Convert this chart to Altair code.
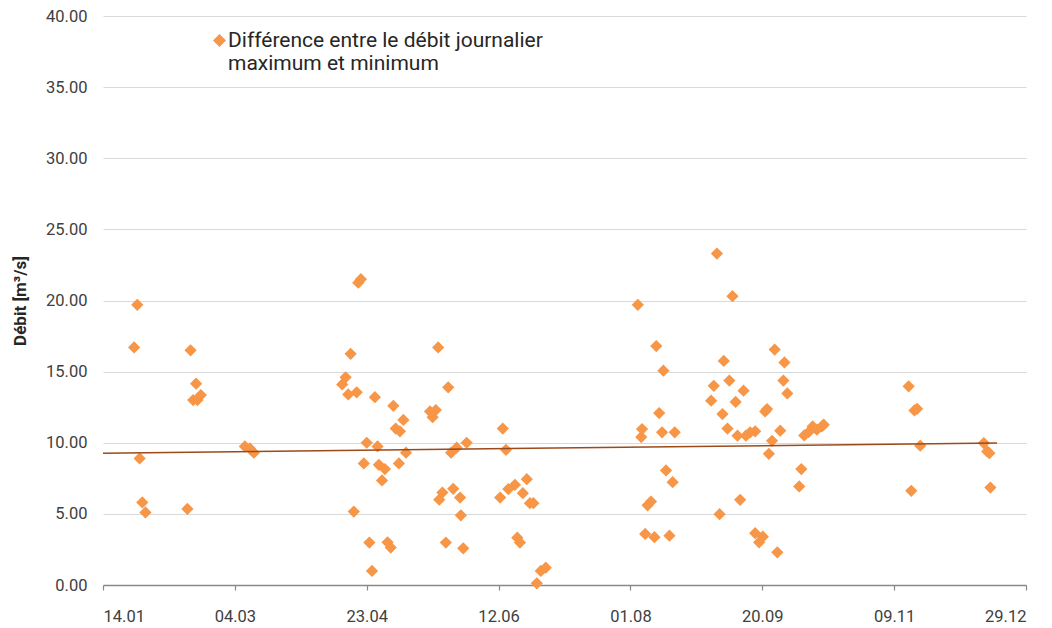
import altair as alt
import pandas as pd

# days since 14.01 (leap year), and daily max-min discharge difference [m3/s]
days = [11.8, 13.0, 13.9, 14.9, 16.1, 32.0, 33.2, 34.2, 35.3, 35.8, 37.1,
        53.8, 55.7, 57.2,
        90.7, 92.0, 93.0, 93.9, 95.1, 96.2, 96.8, 97.8, 98.9, 100.0, 101.0,
        102.0, 103.1, 104.1, 104.6, 105.8, 106.9, 107.9, 109.1, 110.1, 111.0,
        112.2, 112.6, 113.9, 114.9,
        124.0, 125.0, 126.2, 127.1, 127.5, 128.7, 130.0, 130.9, 132.0, 132.8,
        134.1, 135.4, 135.7, 136.6, 137.9,
        150.6, 151.6, 152.8, 153.7, 156.2, 157.1, 158.1, 159.2, 160.7, 161.9,
        163.2, 164.5, 166.0, 167.9,
        202.8, 204.1, 204.4, 205.6, 206.5, 207.8, 209.1, 209.8, 210.9, 212.0,
        212.5, 213.5, 214.8, 216.0, 216.8,
        230.6, 231.6, 232.8, 233.8, 234.9, 235.4, 236.8, 237.5, 238.7, 239.9,
        240.6, 241.6, 242.9, 243.8, 245.4, 247.3, 247.3, 248.8, 250.2, 251.1,
        251.8, 252.5, 253.7, 254.7, 255.7, 256.8, 258.0, 258.4, 259.5,
        264.0, 264.8, 265.9, 267.6, 269.1, 270.7, 272.6, 273.3,
        305.5, 306.5, 307.7, 308.7, 309.9,
        334.0, 335.3, 336.1, 336.5]
values = [16.7, 19.7, 8.9, 5.8, 5.1, 5.35, 16.5, 13.0, 14.15, 13.0, 13.35,
          9.74, 9.6, 9.3,
          14.1, 14.6, 13.4, 16.25, 5.16, 13.55, 21.25, 21.5, 8.55, 10.0, 2.98,
          0.99, 13.2, 9.74, 8.45, 7.35, 8.15, 3.0, 2.63, 12.6, 11.0,
          8.55, 10.8, 11.6, 9.3,
          12.2, 11.8, 12.3, 16.7, 6.0, 6.5, 2.98, 13.9, 9.3, 6.76,
          9.65, 6.15, 4.9, 2.58, 10.0,
          6.15, 11.0, 9.5, 6.74, 7.04, 3.33, 2.98, 6.45, 7.44, 5.75,
          5.75, 0.12, 0.99, 1.22,
          19.7, 10.4, 10.96, 3.59, 5.6, 5.87, 3.36, 16.8, 12.09, 10.73,
          15.07, 8.05, 3.47, 7.23, 10.73,
          12.96, 14.0, 23.3, 4.98, 12.02, 15.75, 11.0, 14.37, 20.3, 12.87,
          10.5, 5.99, 13.66, 10.5, 10.73, 10.8, 3.64, 3.0, 3.4, 12.2,
          12.37, 9.22, 10.14, 16.55, 2.3, 10.85, 14.37, 15.65, 13.47,
          6.93, 8.15, 10.51, 10.75, 11.15, 10.92, 11.15, 11.27,
          13.97, 6.62, 12.27, 12.39, 9.79,
          9.98, 9.39, 9.27, 6.85]

# linear trend line (start / end)
trend_days = [0, 339]
trend_values = [9.27, 9.98]

tick_days = [0, 50, 100, 150, 200, 250, 300, 350]
tick_labels = ["14.01", "04.03", "23.04", "12.06", "01.08", "20.09", "09.11", "29.12"]
y_ticks = [0, 5, 10, 15, 20, 25, 30, 35, 40]
legend_lines = ["Différence entre le débit journalier", "maximum et minimum"]
series_name = " ".join(legend_lines)

df = pd.DataFrame({"day": days, "val": values, "serie": series_name})
df_trend = pd.DataFrame({"day": trend_days, "val": trend_values})

FONT = "Roboto"
label_lookup = "{" + ",".join(f"'{d}':'{l}'" for d, l in zip(tick_days, tick_labels)) + "}"
legend_expr = "[" + ",".join(f"'{l}'" for l in legend_lines) + "]"

x_enc = alt.X("day:Q",
              scale=alt.Scale(domain=[0, 350], nice=False, zero=False),
              axis=alt.Axis(values=tick_days, labelExpr=f"{label_lookup}[''+datum.value]",
                            title=None, grid=False, domain=True, domainColor="#898989",
                            domainWidth=1.7, ticks=True, tickColor="#898989", tickSize=5,
                            tickWidth=1.2, labelPadding=18, labelFontSize=16.5,
                            labelColor="#404040", labelFont=FONT))
y_enc = alt.Y("val:Q",
              scale=alt.Scale(domain=[0, 40], nice=False),
              axis=alt.Axis(values=y_ticks, format=".2f", title="Débit [m³/s]",
                            titleFont=FONT, titleFontSize=17, titleFontWeight="bold",
                            titleColor="#262626", titlePadding=16,
                            grid=True, gridColor="#D9D9D9", gridWidth=1.2,
                            domain=False, ticks=False, labelPadding=16,
                            labelFontSize=16.5, labelColor="#404040", labelFont=FONT))

points = alt.Chart(df).mark_point(shape="diamond", filled=True, size=150, opacity=1).encode(
    x=x_enc, y=y_enc,
    color=alt.Color("serie:N",
                    scale=alt.Scale(range=["#F79646"]),
                    legend=alt.Legend(
                        title=None, orient="none", legendX=103, legendY=3,
                        labelExpr=legend_expr,
                        labelFont=FONT, labelFontSize=21, labelColor="#262626",
                        labelLimit=700, symbolSize=100,
                        symbolType="M-0.7,2.2L0.6,0.9L1.9,2.2L0.6,3.5Z",
                        labelOffset=1, labelBaseline="top")),
)

trend = alt.Chart(df_trend).mark_line(color="#9C4A1A", strokeWidth=1.5).encode(
    x="day:Q", y="val:Q")

chart = alt.layer(points, trend).properties(
    width=923, height=569,
    autosize=alt.AutoSizeParams(type="none"),
    padding={"left": 95, "top": 8, "right": 10, "bottom": 40},
).configure_view(stroke=None)

chart.save("out.html", embed_options={"renderer": "svg", "actions": False})
